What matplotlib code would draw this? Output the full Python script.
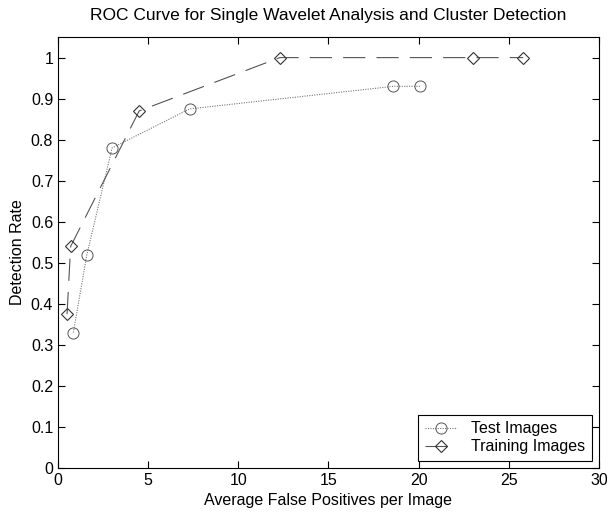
import matplotlib
matplotlib.use("Agg")
import matplotlib.pyplot as plt

test_x = [0.85, 1.6, 3.0, 7.3, 18.6, 20.1]
test_y = [0.33, 0.52, 0.78, 0.875, 0.93, 0.93]
train_x = [0.5, 0.7, 4.5, 12.3, 23.0, 25.8]
train_y = [0.375, 0.54, 0.87, 1.0, 1.0, 1.0]
xticks = [0, 5, 10, 15, 20, 25, 30]
yticks = [0, 0.1, 0.2, 0.3, 0.4, 0.5, 0.6, 0.7, 0.8, 0.9, 1]
ytick_labels = ["0", "0.1", "0.2", "0.3", "0.4", "0.5", "0.6", "0.7", "0.8", "0.9", "1"]

plt.rcParams['font.family'] = ['Liberation Sans', 'DejaVu Sans']
fig = plt.figure(figsize=(6.07, 5.15), dpi=100)
ax = fig.add_axes([0.0956, 0.0913, 0.891, 0.8367])

ax.plot(test_x, test_y, linestyle=(0, (1, 1.2)), color='#777777', linewidth=0.8,
        marker='o', markersize=8, markerfacecolor='none', markeredgecolor='#555555',
        markeredgewidth=0.7, label='Test Images')
ax.plot(train_x, train_y, linestyle=(0, (20, 10)), color='#555555', linewidth=0.8,
        marker='D', markersize=6, markerfacecolor='none', markeredgecolor='#333333',
        markeredgewidth=0.8, label='Training Images')

ax.set_xlim(0, 30)
ax.set_ylim(0, 1.05)
ax.set_xticks(xticks)
ax.set_yticks(yticks)
ax.set_yticklabels(ytick_labels)
ax.tick_params(direction='in', top=True, right=True, labelsize=11.5, length=5, width=0.8)
for s in ax.spines.values():
    s.set_linewidth(0.8)
ax.set_xlabel('Average False Positives per Image', fontsize=11.5)
ax.set_ylabel('Detection Rate', fontsize=11.5)
ax.set_title('ROC Curve for Single Wavelet Analysis and Cluster Detection', fontsize=12.5, pad=12)
leg = ax.legend(loc='lower right', fontsize=11.5, fancybox=False, framealpha=1,
                edgecolor='black', handlelength=2.0, handletextpad=0.9,
                labelspacing=0.2, borderpad=0.4, borderaxespad=0.45)
leg.get_frame().set_linewidth(0.8)

fig.savefig('out.png', dpi=100)
